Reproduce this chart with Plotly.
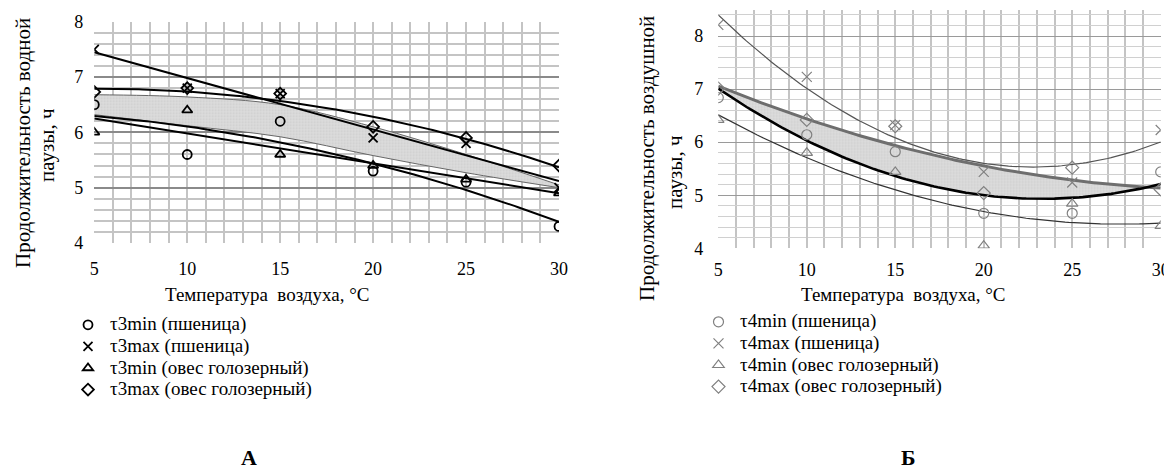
import numpy as np
import plotly.graph_objects as go

# ---------------- data ----------------
temps = [5, 10, 15, 20, 25, 30]

# Chart A (water pause)
t3min_wheat = [6.5, 5.6, 6.2, 5.3, 5.1, 4.3]
t3max_wheat = [7.5, 6.8, 6.7, 5.9, 5.8, 5.0]
t3min_oats = [6.0, 6.4, 5.6, 5.4, 5.15, 4.9]
t3max_oats = [6.73, 6.8, 6.7, 6.1, 5.9, 5.4]
bandA_top = [6.68, 6.64, 6.5, 6.1, 5.6, 5.05]
bandA_bot = [6.32, 6.12, 5.92, 5.58, 5.27, 5.0]

# Chart Б (air pause)
t4min_wheat = [6.84, 6.14, 5.82, 4.66, 4.66, 5.44]
t4max_wheat = [8.21, 7.23, 6.32, 5.44, 5.24, 6.23]
t4min_oats = [6.42, 5.80, 5.44, 4.05, 4.84, 4.42]
t4max_oats = [7.01, 6.42, 6.30, 5.04, 5.52, 5.11]

labelsA = ["τ3min (пшеница)", "τ3max (пшеница)", "τ3min (овес голозерный)", "τ3max (овес голозерный)"]
labelsB = ["τ4min (пшеница)", "τ4max (пшеница)", "τ4min (овес голозерный)", "τ4max (овес голозерный)"]
symbols = ["circle-open", "x-thin-open", "triangle-up-open", "diamond-open"]

FONT = "Liberation Serif"
W, H = 1172, 472
OFF = 8  # page body margin of the written html


def fx(px):
    return (px - OFF) / W


def fy(py):
    return (H - (py - OFF)) / H


def trend(y, deg):
    c = np.polyfit(temps, y, deg)
    xs = np.linspace(temps[0], temps[-1], 126)
    return xs, np.polyval(c, xs)


def big(s):
    return '<span style="font-size:19px">' + s + '</span>'


fig = go.Figure()

# ---------- Chart A ----------
fig.add_trace(go.Scatter(x=temps, y=bandA_bot, mode="lines", line=dict(width=1, color="#666", shape="spline"),
                         showlegend=False, hoverinfo="skip", xaxis="x", yaxis="y"))
fig.add_trace(go.Scatter(x=temps, y=bandA_top, mode="lines", line=dict(width=1, color="#666", shape="spline"),
                         fill="tonexty", fillcolor="#d9d9d9",
                         fillpattern=dict(shape=".", bgcolor="#dcdcdc", fgcolor="#bdbdbd", size=3, solidity=0.3),
                         showlegend=False, hoverinfo="skip", xaxis="x", yaxis="y"))

for y, deg in [(t3max_wheat, 1), (t3min_oats, 1), (t3min_wheat, 2), (t3max_oats, 2)]:
    xs, ys = trend(y, deg)
    fig.add_trace(go.Scatter(x=xs, y=ys, mode="lines", line=dict(color="black", width=2),
                             showlegend=False, hoverinfo="skip", xaxis="x", yaxis="y"))

for y, name, sym in zip([t3min_wheat, t3max_wheat, t3min_oats, t3max_oats], labelsA, symbols):
    fig.add_trace(go.Scatter(x=temps, y=y, mode="markers", name=big(name), legend="legend",
                             marker=dict(symbol=sym, size=9, color="black", line=dict(width=1.8, color="black")),
                             xaxis="x", yaxis="y"))

# ---------- Chart Б ----------
xs_c, ys_c = trend(t4min_wheat, 2)
xs_d, ys_d = trend(t4max_oats, 2)
fig.add_trace(go.Scatter(x=list(xs_c) + list(xs_d[::-1]), y=list(ys_c) + list(ys_d[::-1]), mode="lines",
                         line=dict(width=0), fill="toself", fillcolor="#d9d9d9",
                         fillpattern=dict(shape=".", bgcolor="#dcdcdc", fgcolor="#bdbdbd", size=3, solidity=0.3),
                         showlegend=False, hoverinfo="skip", xaxis="x2", yaxis="y2"))

xs, ys = trend(t4max_wheat, 2)
fig.add_trace(go.Scatter(x=xs, y=ys, mode="lines", line=dict(color="#555", width=1.2),
                         showlegend=False, hoverinfo="skip", xaxis="x2", yaxis="y2"))
xs, ys = trend(t4min_oats, 2)
fig.add_trace(go.Scatter(x=xs, y=ys, mode="lines", line=dict(color="#333", width=1.2),
                         showlegend=False, hoverinfo="skip", xaxis="x2", yaxis="y2"))
fig.add_trace(go.Scatter(x=xs_d, y=ys_d, mode="lines", line=dict(color="#6e6e6e", width=3),
                         showlegend=False, hoverinfo="skip", xaxis="x2", yaxis="y2"))
fig.add_trace(go.Scatter(x=xs_c, y=ys_c, mode="lines", line=dict(color="black", width=2.6),
                         showlegend=False, hoverinfo="skip", xaxis="x2", yaxis="y2"))

for y, name, sym in zip([t4min_wheat, t4max_wheat, t4min_oats, t4max_oats], labelsB, symbols):
    fig.add_trace(go.Scatter(x=temps, y=y, mode="markers", name=big(name), legend="legend2",
                             marker=dict(symbol=sym, size=10, color="#808080", line=dict(width=1.2, color="#808080")),
                             xaxis="x2", yaxis="y2"))

# ---------- layout ----------
tickfont = dict(family=FONT, size=18, color="black")


def xax(domain, anchor, standoff):
    return dict(domain=domain, anchor=anchor, range=[5, 30], tickmode="array", tickvals=temps,
                ticktext=[str(t) for t in temps], tickfont=tickfont, showgrid=True, gridcolor="#c4c4c4",
                gridwidth=1.5, zeroline=False, showline=False, ticks="", ticklabelstandoff=standoff,
                automargin=False,
                minor=dict(tickmode="linear", tick0=5, dtick=1, showgrid=True, gridcolor="#c4c4c4", gridwidth=1.5))


def yax(domain, anchor, top, major_col, minor_col, gw, standoff):
    return dict(domain=domain, anchor=anchor, range=[4, top], tickmode="linear", tick0=4, dtick=1,
                tickfont=tickfont, showgrid=True, gridcolor=major_col, gridwidth=gw, zeroline=False,
                showline=False, ticks="", ticklabelstandoff=standoff, automargin=False,
                minor=dict(tickmode="linear", tick0=4, dtick=0.2, showgrid=True, gridcolor=minor_col, gridwidth=gw))


xA = [fx(94.3), fx(559)]
yA = [fy(243), fy(21.7)]
xB = [fx(718.3), fx(1160.7)]
yB = [fy(248.3), fy(9.5)]

legfont = dict(family=FONT, size=14.3, color="black")

fig.update_layout(
    width=W, height=H, margin=dict(l=0, r=0, t=0, b=0, autoexpand=False),
    paper_bgcolor="white", plot_bgcolor="white",
    font=dict(family=FONT, color="black"),
    xaxis=xax(xA, "y", 13), yaxis=yax(yA, "x", 8, "#8a8a8a", "#c4c4c4", 1.5, 10),
    xaxis2=xax(xB, "y2", 9), yaxis2=yax(yB, "x2", 8.5, "#9a9a9a", "#d0d0d0", 1, 14),
    legend=dict(x=fx(66), y=fy(309), xanchor="left", yanchor="top", font=legfont, traceorder="normal",
                bgcolor="rgba(0,0,0,0)", itemclick=False, tracegroupgap=0, itemwidth=34),
    legend2=dict(x=fx(697), y=fy(306), xanchor="left", yanchor="top", font=legfont, traceorder="normal",
                 bgcolor="rgba(0,0,0,0)", itemclick=False, tracegroupgap=0, itemwidth=33),
    showlegend=True,
)

annots = [
    dict(text="Температура  воздуха, °C", x=fx(267), y=fy(294)),
    dict(text="Температура  воздуха, °C", x=fx(903), y=fy(294)),
    dict(text="Продолжительность водной", x=fx(23), y=fy(143), textangle=-90, font=dict(family=FONT, size=21)),
    dict(text="паузы, ч", x=fx(47), y=fy(145), textangle=-90, font=dict(family=FONT, size=21)),
    dict(text="Продолжительность воздушной", x=fx(647), y=fy(158), textangle=-90, font=dict(family=FONT, size=21)),
    dict(text="паузы, ч", x=fx(675), y=fy(172), textangle=-90, font=dict(family=FONT, size=21)),
    dict(text="<b>А</b>", x=fx(249), y=fy(457), font=dict(family=FONT, size=22)),
    dict(text="<b>Б</b>", x=fx(909), y=fy(457), font=dict(family=FONT, size=22)),
]
for a in annots:
    a.setdefault("font", dict(family=FONT, size=19))
    a.update(xref="paper", yref="paper", showarrow=False, xanchor="center", yanchor="middle", align="center")
fig.update_layout(annotations=annots)

fig.write_html("out.html")
